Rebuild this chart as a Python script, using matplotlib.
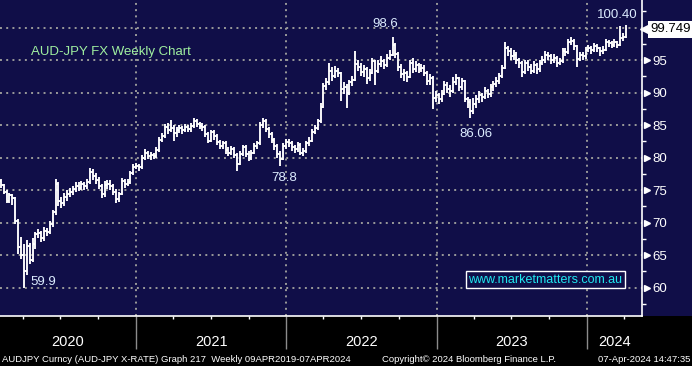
import numpy as np
import pandas as pd
import matplotlib.pyplot as plt
import matplotlib.dates as mdates
from matplotlib.patches import Rectangle
from matplotlib.ticker import FixedLocator

plt.rcParams['font.family'] = ['Liberation Sans', 'DejaVu Sans']

# Weekly AUD-JPY bars (visible window Feb 2020 - Apr 2024)
dates = pd.date_range('2020-02-07', periods=218, freq='W-FRI')
first_open = 76.4
closes = [75.8, 74.8, 73.4, 74.2, 73.8, 70.2, 66.3, 65.0, 62.5, 66.4,
          64.2, 66.8, 68.2, 68.4, 67.6, 68.8, 68.6, 69.8, 71.6, 76.0,
          73.3, 73.0, 74.0, 74.4, 74.8, 75.2, 75.7, 75.4, 75.9, 75.6,
          76.2, 77.8, 77.2, 76.6, 75.6, 74.4, 75.8, 76.0, 75.6, 74.8,
          73.6, 74.4, 76.4, 76.0, 76.2, 77.6, 78.6, 78.8, 78.5, 80.0,
          80.8, 80.3, 80.4, 80.2, 81.2, 82.8, 83.4, 84.8, 84.2, 84.6,
          83.8, 84.2, 84.6, 84.2, 84.8, 84.4, 84.9, 85.6, 85.2, 84.9,
          84.7, 83.6, 82.6, 83.9, 83.4, 82.4, 81.8, 82.2, 81.2, 80.8,
          81.4, 80.4, 79.0, 80.6, 81.6, 80.6, 80.0, 80.8, 81.8, 82.2,
          85.0, 85.6, 84.4, 83.6, 82.8, 81.8, 80.6, 79.8, 81.8, 82.4,
          82.2, 81.6, 81.4, 82.0, 80.8, 81.0, 82.2, 82.6, 84.0, 84.6,
          85.6, 87.8, 91.0, 91.6, 93.4, 92.6, 93.4, 93.0, 90.6, 90.8,
          90.0, 91.6, 92.0, 94.4, 94.0, 93.2, 93.6, 92.2, 93.0, 94.8,
          93.4, 94.4, 94.8, 94.2, 95.4, 95.8, 97.4, 96.0, 94.0, 92.8,
          93.0, 92.4, 94.6, 93.6, 94.2, 93.6, 93.8, 93.0, 91.8, 92.2,
          89.2, 89.6, 89.0, 89.8, 91.2, 90.6, 90.2, 91.6, 92.2, 90.8,
          91.8, 89.0, 88.6, 87.2, 88.2, 89.0, 89.6, 89.4, 90.2, 89.8,
          90.8, 91.4, 91.8, 92.6, 93.8, 96.8, 96.4, 95.6, 95.8, 95.0,
          94.6, 93.2, 94.6, 94.0, 93.4, 94.2, 93.6, 94.6, 95.0, 95.8,
          95.6, 95.0, 95.4, 94.6, 94.8, 96.4, 96.2, 97.8, 98.0, 97.2,
          95.2, 95.8, 95.6, 96.6, 96.8, 96.6, 97.2, 96.8, 96.4, 96.6,
          97.8, 97.6, 97.4, 97.8, 97.4, 98.4, 98.6, 99.749]
highs = [76.8, 76.0, 75.0, 74.6, 74.4, 74.0, 70.6, 67.8, 66.8, 67.4,
         66.9, 67.6, 68.6, 69.0, 68.8, 69.4, 69.2, 70.2, 72.0, 76.8,
         76.2, 74.0, 74.5, 75.0, 75.3, 75.7, 76.2, 76.3, 76.4, 76.3,
         76.8, 78.4, 78.2, 77.6, 77.0, 76.0, 76.4, 76.6, 76.5, 76.0,
         75.2, 74.8, 76.9, 76.8, 76.7, 78.0, 79.0, 79.2, 79.0, 80.4,
         81.3, 81.0, 80.9, 80.8, 81.6, 83.2, 83.8, 85.2, 85.4, 85.8,
         85.0, 84.7, 85.0, 84.9, 85.2, 85.1, 85.3, 86.1, 85.9, 85.5,
         85.3, 85.0, 84.0, 84.3, 84.3, 83.7, 82.8, 82.6, 82.5, 81.6,
         81.8, 81.7, 80.8, 81.0, 82.0, 81.9, 81.0, 81.2, 82.2, 82.6,
         85.5, 86.1, 85.9, 84.8, 84.0, 83.1, 82.1, 81.0, 82.2, 82.9,
         82.9, 82.6, 82.0, 82.4, 82.3, 81.5, 82.6, 83.2, 84.4, 85.1,
         86.0, 88.4, 91.5, 92.2, 94.6, 94.0, 94.1, 93.8, 93.2, 91.6,
         91.4, 92.0, 92.6, 96.4, 95.0, 94.6, 94.2, 94.0, 93.6, 95.4,
         95.0, 95.0, 95.6, 95.2, 96.0, 96.6, 98.6, 97.6, 96.2, 94.4,
         93.6, 93.4, 95.0, 95.4, 94.8, 94.6, 94.4, 94.2, 93.4, 92.8,
         92.6, 90.2, 90.0, 90.4, 91.8, 91.6, 91.2, 92.4, 92.8, 92.4,
         92.2, 92.0, 89.4, 89.0, 89.2, 89.6, 90.2, 90.0, 90.8, 90.6,
         91.4, 91.8, 92.4, 93.0, 94.2, 97.8, 97.2, 96.8, 96.6, 96.2,
         95.4, 94.8, 95.0, 95.0, 94.4, 94.8, 94.6, 95.0, 95.6, 96.4,
         96.2, 95.9, 95.9, 95.7, 95.3, 96.8, 96.9, 98.2, 98.6, 98.3,
         97.4, 96.3, 96.2, 97.0, 97.4, 97.2, 97.6, 97.5, 97.1, 97.2,
         98.3, 98.1, 98.0, 98.3, 98.0, 100.2, 99.2, 100.4]
lows = [75.4, 74.4, 73.0, 73.0, 72.8, 69.8, 65.2, 64.4, 59.9, 62.0,
        63.6, 63.9, 66.0, 67.6, 67.0, 67.2, 67.9, 68.2, 69.4, 71.2,
        72.6, 72.2, 72.6, 73.4, 74.0, 74.3, 74.8, 74.9, 75.0, 75.0,
        75.2, 75.9, 76.6, 76.0, 75.2, 73.8, 74.0, 75.2, 75.0, 74.2,
        73.0, 73.2, 74.2, 75.4, 75.6, 75.9, 77.3, 78.2, 78.0, 78.2,
        79.6, 79.8, 79.7, 79.8, 79.9, 80.9, 82.4, 83.0, 83.6, 83.9,
        82.6, 83.2, 83.8, 83.7, 83.9, 83.9, 84.0, 84.6, 84.8, 84.4,
        84.1, 83.2, 82.2, 82.4, 82.8, 82.0, 81.3, 81.4, 80.6, 80.2,
        80.4, 79.9, 77.9, 78.9, 80.2, 80.1, 79.5, 79.6, 80.5, 81.4,
        82.0, 84.6, 84.0, 83.0, 82.2, 81.2, 80.0, 78.8, 79.6, 81.3,
        81.6, 81.0, 80.8, 80.9, 80.4, 80.3, 80.8, 81.8, 82.4, 83.6,
        84.2, 85.4, 87.6, 90.4, 91.2, 91.8, 92.2, 92.4, 88.8, 89.8,
        87.6, 89.6, 91.0, 91.8, 93.4, 92.6, 92.4, 91.4, 91.8, 92.8,
        91.2, 93.0, 94.0, 93.6, 93.9, 95.0, 95.6, 95.4, 93.4, 92.2,
        91.8, 91.6, 92.2, 93.0, 93.2, 93.0, 93.2, 92.6, 91.2, 91.2,
        87.5, 88.6, 88.2, 88.6, 89.6, 90.0, 89.4, 89.9, 91.2, 90.2,
        90.4, 88.6, 87.6, 86.06, 86.8, 87.6, 88.4, 88.6, 89.0, 89.2,
        89.4, 90.2, 90.8, 91.4, 92.2, 93.6, 95.6, 95.0, 95.0, 94.4,
        93.8, 92.4, 92.8, 93.4, 92.8, 93.0, 92.9, 93.2, 94.2, 94.6,
        95.0, 94.4, 94.6, 94.0, 94.2, 94.6, 95.6, 96.0, 97.4, 96.6,
        93.9, 94.8, 95.0, 95.2, 96.2, 96.0, 96.2, 96.3, 95.6, 95.9,
        96.4, 97.0, 96.8, 97.0, 96.9, 97.2, 98.0, 98.4]

yticks = [60, 65, 70, 75, 80, 85, 90, 95]
years = ['2020', '2021', '2022', '2023', '2024']
last_price = '99.749'
# (bar index, value, label) for the marked extremes
marks = [(8, 59.9, '59.9'), (97, 78.8, '78.8'), (136, 98.6, '98.6'),
         (163, 86.06, '86.06'), (217, 100.4, '100.40')]

navy = '#100e48'
x = mdates.date2num(dates)
opens = np.r_[first_open, closes[:-1]]

fig = plt.figure(figsize=(6.92, 3.66), dpi=100, facecolor=navy)
fig.patches.append(Rectangle((0, 0), 1, 50 / 366, transform=fig.transFigure,
                             facecolor='black', edgecolor='none', zorder=-5))
ax = fig.add_axes([0, 50 / 366, 642 / 692, 316 / 366])
ax.set_facecolor(navy)

# OHLC bars
bar_kw = dict(color='white', lw=1.35, zorder=3)
ax.vlines(x, lows, highs, **bar_kw)
ax.hlines(opens, x - 3.5, x, **bar_kw)
ax.hlines(closes, x, x + 3.5, **bar_kw)

x0 = mdates.date2num(pd.Timestamp('2020-02-05'))
x1 = mdates.date2num(pd.Timestamp('2024-05-14'))
ax.set_xlim(x0, x1)
ax.set_ylim(55.65, 104.26)

# dotted grid
grid_kw = dict(color='#9a9a9a', lw=1.4, ls=(0, (1, 2.2)), zorder=1)
for v in range(60, 101, 5):
    ax.axhline(v, **grid_kw)
year_starts = mdates.date2num(pd.to_datetime(['2021-01-01', '2022-01-01',
                                              '2023-01-01', '2024-01-01']))
for d in year_starts:
    ax.axvline(d, **grid_kw)

# x axis: year dividers + quarterly ticks
ax.set_xticks(year_starts)
ax.xaxis.set_minor_locator(FixedLocator(
    mdates.date2num(pd.date_range('2020-04-01', '2024-04-01', freq='QS'))))
ax.tick_params(axis='x', which='major', length=24, width=1,
               color='#8c8c8c', labelbottom=False)
ax.tick_params(axis='x', which='minor', length=2.5, width=1, color='white')
bounds = np.r_[x0, year_starts, x1]
for i, yr in enumerate(years):
    ax.text((bounds[i] + bounds[i + 1]) / 2, -0.082, yr, color='white',
            fontsize=10.5, ha='center', va='center',
            transform=ax.get_xaxis_transform())

# right y axis
ax.yaxis.tick_right()
ax.set_yticks(yticks)
ax.set_yticklabels([str(t) for t in yticks])
ax.yaxis.set_minor_locator(FixedLocator(np.arange(57.5, 103, 5)))
ax.tick_params(axis='y', which='major', length=0, pad=7.5,
               labelcolor='white', labelsize=9.5)
ax.tick_params(axis='y', which='minor', length=3, width=1, color='white')
ax.plot(np.full(len(yticks), 1.0078), yticks, ls='none', marker='>', ms=5,
        color='white', transform=ax.get_yaxis_transform(), clip_on=False)

for s in ['top', 'left']:
    ax.spines[s].set_visible(False)
for s in ['right', 'bottom']:
    ax.spines[s].set_color('white')
    ax.spines[s].set_linewidth(1.2)

# last price flag
ax.plot([1.006], [closes[-1]], ls='none', marker='<', ms=9, color='white',
        transform=ax.get_yaxis_transform(), clip_on=False, zorder=5)
ax.text(1.0125, closes[-1], last_price, color='black', fontsize=9.5,
        ha='left', va='center', transform=ax.get_yaxis_transform(),
        bbox=dict(boxstyle='square,pad=0.18', fc='white', ec='none'),
        clip_on=False, zorder=6)

# extreme labels
offsets = {'59.9': (5, 4.5, 'left', 'center'), '78.8': (3, -5, 'center', 'top'),
           '98.6': (-5, 5, 'center', 'bottom'), '86.06': (4, -7, 'center', 'top'),
           '100.40': (-6, 3, 'center', 'bottom')}
for idx, val, lab in marks:
    dx, dy, ha, va = offsets[lab]
    ax.annotate(lab, xy=(x[idx], val), xytext=(dx, dy), textcoords='offset points',
                color='#dcecff', fontsize=9.5, ha=ha, va=va, zorder=6)

ax.text(0.048, 0.835, 'AUD-JPY FX Weekly Chart', color='#a0f0a0', fontsize=9.5,
        ha='left', va='center', transform=ax.transAxes)
ax.text(0.849, 0.114, 'www.marketmatters.com.au', color='#20e8f0', fontsize=9,
        ha='center', va='center', transform=ax.transAxes, zorder=6,
        bbox=dict(boxstyle='square,pad=0.2', fc=navy, ec='white', lw=1))

# footer
fy = 7 / 366
fig.text(2 / 692, fy, 'AUDJPY Curncy (AUD-JPY X-RATE) Graph 217  Weekly 09APR2019-07APR2024',
         color='white', fontsize=6.8, ha='left', va='center')
fig.text(382 / 692, fy, 'Copyright\u00a9 2024 Bloomberg Finance L.P.',
         color='white', fontsize=6.8, ha='left', va='center')
fig.text(690 / 692, fy, '07-Apr-2024 14:47:35', color='white', fontsize=6.8,
         ha='right', va='center')

fig.savefig('out.png', dpi=100, facecolor=fig.get_facecolor())
